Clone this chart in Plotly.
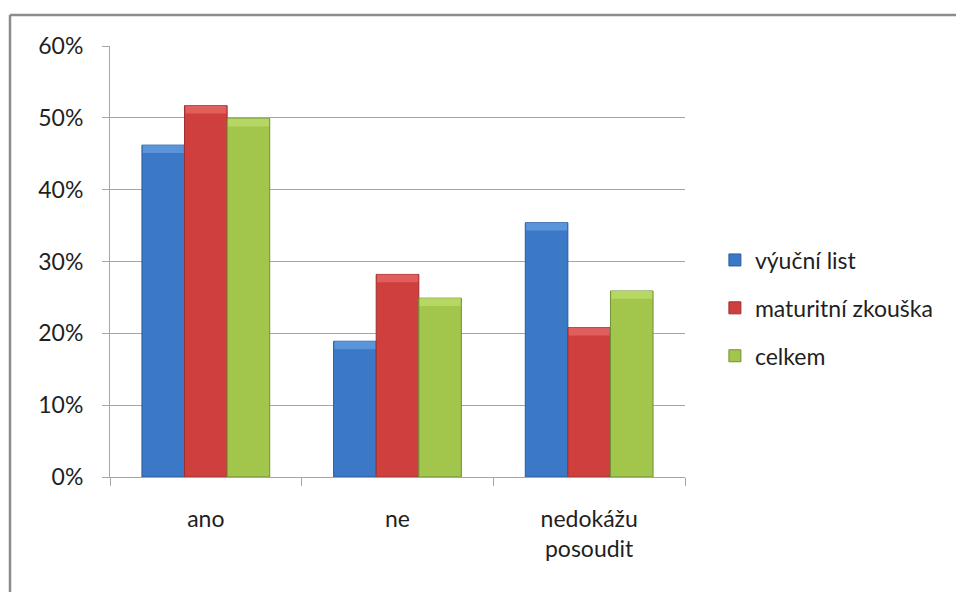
import plotly.graph_objects as go

# Survey answers grouped by type of qualification
categories = ["ano", "ne", "nedokážu<br>posoudit"]
series_names = ["výuční list", "maturitní zkouška", "celkem"]
vyucni_list = [0.462, 0.189, 0.354]
maturitni_zkouska = [0.517, 0.282, 0.208]
celkem = [0.499, 0.249, 0.259]
y_ticks = [0, 0.1, 0.2, 0.3, 0.4, 0.5, 0.6]

series_values = [vyucni_list, maturitni_zkouska, celkem]
fill_colors = ["#3b78c6", "#cf3f3d", "#a2c54c"]
edge_colors = ["#2c5c98", "#9e2e2c", "#71913a"]
cap_colors = ["#5a95dc", "#e05e5c", "#b6d763"]

bar_w = 1 / 4.5          # Excel-style 150 % gap width
offsets = [-1.5 * bar_w, -0.5 * bar_w, 0.5 * bar_w]
cap = 0.011              # height of the light bevel band at the top of each bar

FONT = "Lato, 'Open Sans', sans-serif"
TEXT = "#1f1f1f"
FS = 23

fig = go.Figure()
for name, vals, fc, ec, off in zip(series_names, series_values, fill_colors, edge_colors, offsets):
    fig.add_trace(go.Bar(
        name=name, x=categories, y=vals, width=bar_w, offset=off,
        marker=dict(color=fc, line=dict(color=ec, width=1)),
        legendgroup=name,
    ))
for name, vals, cc, off in zip(series_names, series_values, cap_colors, offsets):
    fig.add_trace(go.Bar(
        x=categories, y=[cap] * len(vals), base=[v - cap for v in vals],
        width=bar_w * 0.96, offset=off + bar_w * 0.02,
        marker=dict(color=cc, line=dict(width=0)),
        showlegend=False, hoverinfo="skip", legendgroup=name,
    ))

# chart frame (top and left edges)
frame_x = (10 - 110) / 575
frame_y = (477 - 15) / 431
fig.add_shape(type="line", xref="paper", yref="paper",
              x0=frame_x, y0=frame_y, x1=1.6, y1=frame_y,
              line=dict(color="#8c8c8c", width=2.5))
fig.add_shape(type="line", xref="paper", yref="paper",
              x0=frame_x, y0=frame_y, x1=frame_x, y1=-0.4,
              line=dict(color="#8c8c8c", width=2.5))

fig.update_layout(
    width=956, height=592,
    margin=dict(l=110, r=271, t=46, b=115),
    barmode="overlay",
    plot_bgcolor="white", paper_bgcolor="white",
    font=dict(family=FONT, size=FS, color=TEXT),
    showlegend=True,
    legend=dict(
        x=1.052, y=(477 - 308) / 431, xanchor="left", yanchor="middle",
        font=dict(family=FONT, size=FS, color=TEXT),
        tracegroupgap=15, traceorder="grouped",
        itemwidth=30,
    ),
    xaxis=dict(
        type="category", range=[-0.5, 2.5],
        showline=True, linecolor="#a6a6a6", linewidth=1,
        ticks="outside", tickson="boundaries", ticklen=8,
        tickcolor="#a6a6a6", ticklabelstandoff=21,
        showgrid=False, tickfont=dict(size=FS, color=TEXT),
    ),
    yaxis=dict(
        range=[0, 0.6], tickvals=y_ticks, tickformat=".0%",
        showline=True, linecolor="#a6a6a6", linewidth=1,
        ticks="outside", ticklen=7, tickcolor="#a6a6a6",
        showgrid=True, gridcolor="#a6a6a6", gridwidth=1,
        zeroline=False, ticklabelstandoff=14,
        tickfont=dict(size=FS, color=TEXT),
    ),
)

fig.write_html("out.html")
